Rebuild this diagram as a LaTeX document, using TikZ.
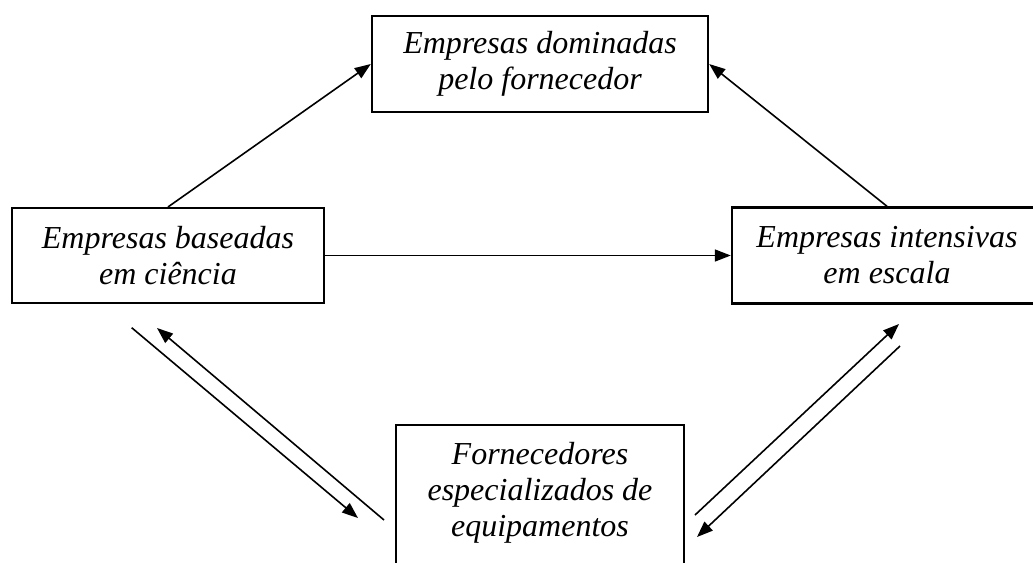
\documentclass[tikz,border=0pt]{standalone}
\usepackage{fontspec}
\setmainfont{Liberation Serif}
\usetikzlibrary{arrows.meta}
\begin{document}
\begin{tikzpicture}[x=0.75pt,y=-0.75pt,
  box/.style={draw, line width=1.8pt, align=center, font=\fontsize{24}{27}\selectfont\itshape},
  arr/.style={-{Triangle[length=12pt,width=9pt]}, line width=1.2pt}]
\useasboundingbox (0,0) rectangle (1033,562);
\clip (0,0) rectangle (1033,562);
\node[box, minimum width=252pt, minimum height=72pt] (dom) at (540,64) {Empresas dominadas\\pelo fornecedor};
\node[box, minimum width=234pt, minimum height=71pt] (cie) at (168,255.5) {Empresas baseadas\\em ciência};
\node[box, minimum width=232.5pt, minimum height=72pt] (esc) at (887,255.5) {Empresas intensivas\\em escala};
\node[box, anchor=north, minimum width=216pt, inner ysep=11.25pt, text height=72pt, text depth=110pt] (forn) at (540,424) {Fornecedores\\especializados de\\equipamentos};
\coordinate (a1) at (131.7,327.7);
\coordinate (a2) at (358,518);
\coordinate (b1) at (384,520);
\coordinate (b2) at (157,328);
\coordinate (c1) at (695,515);
\coordinate (c2) at (899,324);
\coordinate (d1) at (900,346);
\coordinate (d2) at (697,537);
\draw[arr] (cie.north) -- (dom.west);
\draw[arr] (esc.north) -- (dom.east);
\draw[arr] (cie.east) -- (esc.west);
\draw[arr] (a1) -- (a2);
\draw[arr] (b1) -- (b2);
\draw[arr] (c1) -- (c2);
\draw[arr] (d1) -- (d2);
\end{tikzpicture}
\end{document}
